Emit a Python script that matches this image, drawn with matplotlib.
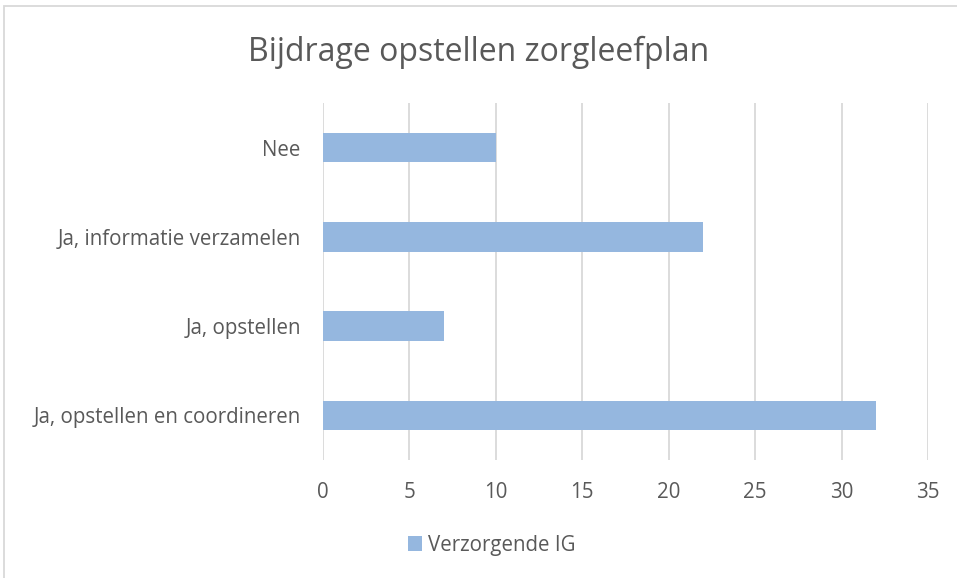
import matplotlib
matplotlib.use("Agg")
import matplotlib.pyplot as plt
from matplotlib.patches import Rectangle

# data
categories = ["Ja, opstellen en coordineren", "Ja, opstellen",
              "Ja, informatie verzamelen", "Nee"]
values = [32, 7, 22, 10]
series_name = "Verzorgende IG"
x_ticks = [0, 5, 10, 15, 20, 25, 30, 35]

plt.rcParams['font.family'] = ['Open Sans', 'DejaVu Sans']
text_col = '#595959'
bar_col = '#95B7DF'
grid_col = '#D9D9D9'

fig = plt.figure(figsize=(9.57, 5.78), dpi=100)
ax = fig.add_axes([0.3375, 0.2042, 0.6322, 0.6176])

ax.barh(range(len(categories)), values, height=0.33, color=bar_col,
        label=series_name, zorder=3)

ax.set_xlim(0, 35)
ax.set_ylim(-0.5, len(categories) - 0.5)
ax.set_xticks(x_ticks)
ax.set_yticks(range(len(categories)))
ax.set_yticklabels(categories)
ax.grid(axis='x', color=grid_col, linewidth=1.3, zorder=0)
for s in ax.spines.values():
    s.set_visible(False)
ax.tick_params(axis='both', length=0, labelsize=14.8, colors=text_col)
ax.tick_params(axis='x', pad=16)
ax.tick_params(axis='y', pad=16)

fig.text(0.5, 0.91, "Bijdrage opstellen zorgleefplan", ha='center',
         va='center', fontsize=23, color=text_col)

leg = fig.legend(loc='center', bbox_to_anchor=(0.514, 0.057), frameon=False,
                 fontsize=14.8, handlelength=0.7, handleheight=0.7,
                 handletextpad=0.3)
for t in leg.get_texts():
    t.set_color(text_col)

# outer chart border
fig.patches.append(Rectangle((4 / 957, -0.01), 1.2, 1 - 6 / 578 + 0.01,
                             transform=fig.transFigure, fill=False,
                             edgecolor=grid_col, linewidth=1.3))

fig.savefig("out.png", dpi=100)
